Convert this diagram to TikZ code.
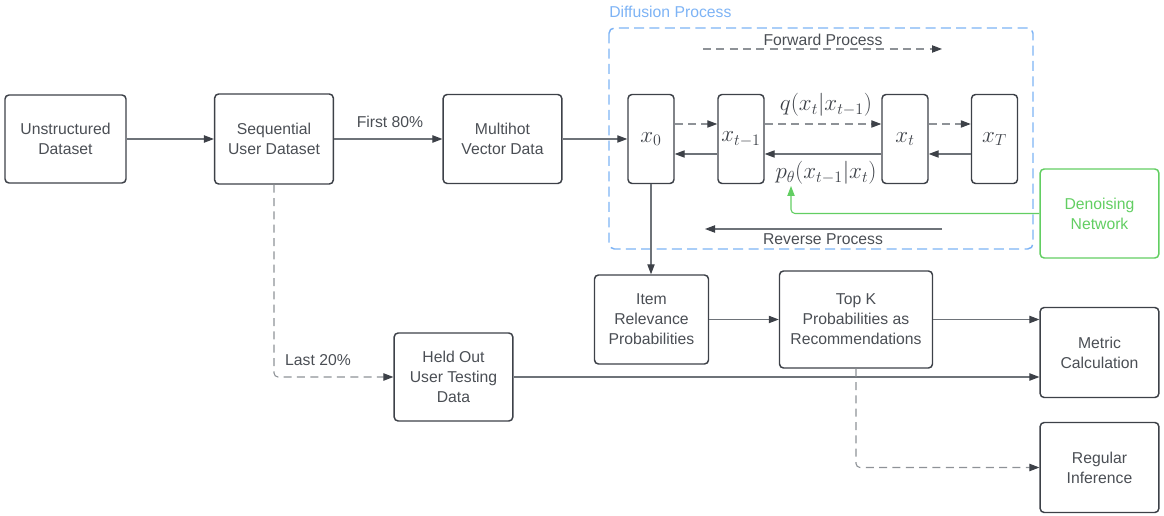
\documentclass[tikz,border=0pt]{standalone}
\usepackage{fontspec}
\setmainfont{Liberation Sans}
\usetikzlibrary{positioning}
\usetikzlibrary{arrows.meta}
\definecolor{boxgray}{HTML}{3D4148}
\definecolor{linegray}{HTML}{6E7379}
\definecolor{dashgray}{HTML}{8E9297}
\definecolor{txtgray}{HTML}{4A4E54}
\definecolor{diffblue}{HTML}{7DB3F5}
\definecolor{netgreen}{HTML}{62CE62}
\tikzset{
        flowbox/.style={align=center,inner sep=0pt,rounded corners=3pt,line width=1.1pt},
        % Process boxes
        box_proc/.style={flowbox, rectangle, draw=boxgray, text=txtgray, font=\fontsize{11.8}{15}\selectfont, minimum width=89pt, minimum height=66pt},
        % Diffusion states
        box_state/.style={flowbox, rectangle, draw=boxgray, text=boxgray, font=\fontsize{17.5}{20}\selectfont, minimum width=34.5pt, minimum height=66.75pt},
        % Network box
        box_net/.style={flowbox, rectangle, draw=netgreen, text=netgreen, font=\fontsize{11.8}{15}\selectfont, minimum width=89pt, minimum height=66.75pt},
        % Plain labels
        lbl_text/.style={inner sep=0pt, text=txtgray, font=\fontsize{11.8}{15}\selectfont},
        lbl_math/.style={inner sep=0pt, text=boxgray, font=\fontsize{16.5}{18}\selectfont},
        % Connectors
        arr_solid/.style={draw=linegray, line width=0.8pt, -{Triangle[length=7.5pt,width=5.5pt,color=boxgray]}},
        arr_dashed/.style={arr_solid, draw=dashgray, dash pattern=on 6pt off 4pt},
        arr_green/.style={draw=netgreen, line width=0.8pt, rounded corners=3pt, -{Triangle[length=7.5pt,width=5.5pt]}}
}
\begin{document}
\begin{tikzpicture}[x=0.75pt,y=-0.75pt]
    \useasboundingbox (0,0) rectangle (1164,516);
    % Diffusion frame
    \draw[diffblue, line width=1.1pt, rounded corners=4pt, dash pattern=on 7.5pt off 4pt] (609,28) rectangle (1033,249);
    \node[lbl_text, text=diffblue, anchor=west] (diff_lbl) at (609,12) {Diffusion Process};

    % Top row
    \node[box_proc, minimum width=90.75pt] (unstr) at (65.5,139) {Unstructured\\Dataset};
    \node[box_proc, minimum height=67.5pt] (seq) at (274,139) {Sequential\\User Dataset};
    \node[box_proc, minimum height=66.75pt] (multi) at (502.5,139) {Multihot\\Vector Data};
    \node[box_state] (x_zero) at (651,139) {$x_0$};
    \node[box_state] (x_prev) at (741,139) {$x_{t-1}$};
    \node[box_state] (x_t) at (905,139) {$x_t$};
    \node[box_state] (x_T) at (994.5,139) {$x_T$};
    \node[box_net] (denoise) at (1099.5,213.5) {Denoising\\Network};

    % Lower part
    \node[box_proc, minimum width=85.5pt, minimum height=66.75pt] (item) at (651.5,319.5) {Item\\Relevance\\Probabilities};
    \node[box_proc, minimum width=114.75pt, minimum height=72.75pt] (topk) at (856,319.5) {Top K\\Probabilities as\\Recommendations};
    \node[box_proc] (heldout) at (453.5,377) {Held Out\\User Testing\\Data};
    \node[box_proc, minimum height=67.5pt] (metric) at (1099.5,352.5) {Metric\\Calculation};
    \node[box_proc, minimum height=67.5pt] (reginf) at (1099.5,467.5) {Regular\\Inference};

    % Process arrows
    \coordinate (fwd_a) at (703,49);
    \coordinate (fwd_b) at (942,49);
    \coordinate (rev_a) at (942,229);
    \coordinate (rev_b) at (705,229);
    \coordinate (green_tip) at (791,186);
    \node[lbl_text] (fwd_lbl) at (823,40) {Forward Process};
    \node[lbl_text] (rev_lbl) at (823,239) {Reverse Process};
    \node[lbl_math] (q_lbl) at (826,105) {$q(x_t|x_{t-1})$};
    \node[lbl_math] (p_lbl) at (826,173) {$p_\theta(x_{t-1}|x_t)$};
    \node[lbl_text] (first_lbl) at (390,122) {First 80\%};
    \node[lbl_text] (last_lbl) at (318,360) {Last 20\%};

    \draw[arr_dashed] (fwd_a) -- (fwd_b);
    \draw[arr_solid] (rev_a) -- (rev_b);

    \draw[arr_solid] (unstr) -- (seq);
    \draw[arr_solid] (seq) -- (multi);
    \draw[arr_solid] (multi) -- (x_zero);
    \draw[arr_dashed] ([yshift=11.25pt]x_zero.east) -- ([yshift=11.25pt]x_prev.west);
    \draw[arr_dashed] ([yshift=11.25pt]x_prev.east) -- ([yshift=11.25pt]x_t.west);
    \draw[arr_dashed] ([yshift=11.25pt]x_t.east) -- ([yshift=11.25pt]x_T.west);
    \draw[arr_solid] ([yshift=-11.25pt]x_prev.west) -- ([yshift=-11.25pt]x_zero.east);
    \draw[arr_solid] ([yshift=-11.25pt]x_t.west) -- ([yshift=-11.25pt]x_prev.east);
    \draw[arr_solid] ([yshift=-11.25pt]x_T.west) -- ([yshift=-11.25pt]x_t.east);
    \draw[arr_green] (denoise.west) -| (green_tip);

    \draw[arr_solid] (x_zero.south) -- (item.north -| x_zero.south);
    \draw[arr_solid] (item) -- (topk);
    \draw[arr_solid] (topk.east) -- (metric.west |- topk.east);
    \draw[arr_solid] (heldout.east) -- (metric.west |- heldout.east);
    \draw[arr_dashed, rounded corners=3pt] (seq.south) |- (heldout.west);
    \draw[arr_dashed, rounded corners=3pt] (topk.south) |- (reginf.west);
\end{tikzpicture}
\end{document}
